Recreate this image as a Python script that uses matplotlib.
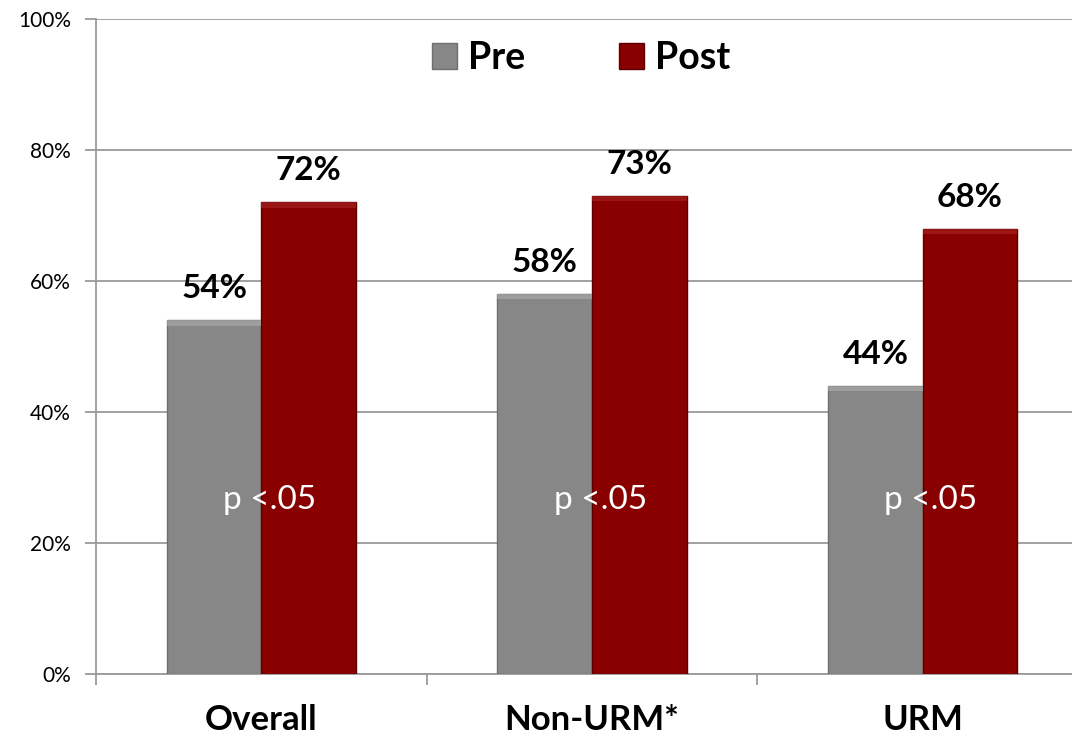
import numpy as np
import matplotlib.pyplot as plt

plt.rcParams['font.family'] = ['Lato', 'DejaVu Sans']

categorias = ['Overall', 'Non-URM*', 'URM']
pre = [54, 58, 44]
post = [72, 73, 68]
etiqueta_p = 'p <.05'

color_pre = '#878787'
color_post = '#880000'

fig = plt.figure(figsize=(10.72, 7.36), dpi=100)
ax = fig.add_axes([96 / 1072, 62 / 736, 992 / 1072, 655 / 736])

x = np.arange(len(categorias))
ancho = 0.286

barras_pre = ax.bar(x - ancho / 2, pre, ancho, color=color_pre, edgecolor='#6e6e6e',
                    linewidth=1, label='Pre', zorder=3)
barras_post = ax.bar(x + ancho / 2, post, ancho, color=color_post, edgecolor='#5e0000',
                     linewidth=1, label='Post', zorder=3)

# bisel simple en la parte superior de cada barra
for barras, claro in [(barras_pre, '#a8a8a8'), (barras_post, '#a52020')]:
    for b in barras:
        ax.add_patch(plt.Rectangle((b.get_x(), b.get_height() - 0.8), b.get_width(), 0.8,
                                   facecolor=claro, edgecolor='none', alpha=0.7, zorder=4))

for barras, vals in [(barras_pre, pre), (barras_post, post)]:
    for b, v in zip(barras, vals):
        ax.text(b.get_x() + b.get_width() / 2, v + 4.8, f'{v}%', ha='center', va='center',
                fontsize=24, fontweight='bold', color='black', zorder=5)

for xi in x:
    ax.text(xi + 0.025, 26.5, etiqueta_p, ha='center', va='center', fontsize=24,
            color='white', zorder=5)

for xi, cat in zip(x, categorias):
    ax.text(xi, -0.07, cat, transform=ax.get_xaxis_transform(), ha='center', va='center',
            fontsize=25, fontweight='bold')

ax.set_ylim(0, 100)
ax.set_xlim(-0.5, 2.5)
ax.set_yticks(np.arange(0, 101, 20))
ax.set_yticklabels([f'{v}%' for v in range(0, 101, 20)], fontsize=15)
ax.yaxis.grid(True, color='#9a9a9a', linewidth=1.3, zorder=0)
ax.set_axisbelow(True)

ax.set_xticks([-0.5, 0.5, 1.5, 2.5])
ax.set_xticklabels([])
ax.tick_params(axis='x', which='major', length=8, width=1.3, color='#9a9a9a', direction='out')
ax.tick_params(axis='y', length=8, width=1.3, color='#9a9a9a', direction='out', pad=10)

for lado in ['top', 'right']:
    ax.spines[lado].set_visible(False)
for lado in ['left', 'bottom']:
    ax.spines[lado].set_color('#9a9a9a')
    ax.spines[lado].set_linewidth(1.3)

leg = ax.legend(loc='center', bbox_to_anchor=(0.489, 0.94), ncol=2, frameon=False,
                prop={'size': 27, 'weight': 'bold'}, handlelength=0.67, handleheight=0.67,
                columnspacing=2.5, handletextpad=0.3)

fig.savefig('out.png', dpi=100)
